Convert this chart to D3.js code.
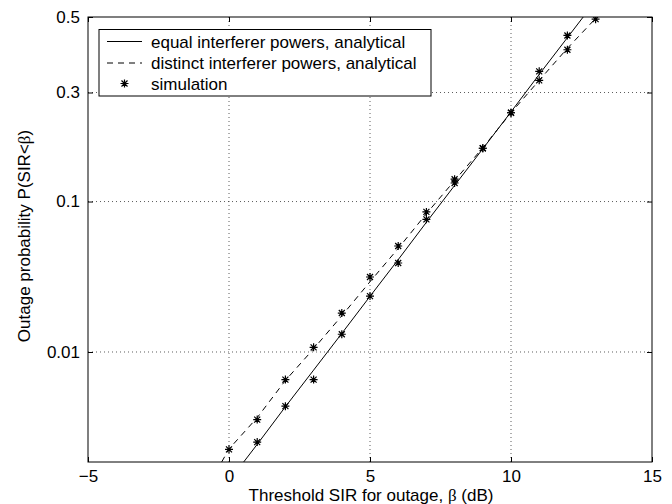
<!DOCTYPE html>
<html>
<head>
<meta charset="utf-8">
<script src="https://cdn.jsdelivr.net/npm/d3@7"></script>
<style>
  body { margin: 0; background: #fff; }
  text { font-family: "Liberation Sans", Arial, Helvetica, sans-serif; }
</style>
</head>
<body>
<svg width="672" height="504"></svg>
<script>
// values
const simX = [0, 1, 2, 3, 4, 5, 6, 7, 8, 9, 10, 11, 12, 13];
const simEqual = [null, 0.00158, 0.00344, 0.0059, 0.0138, 0.0263, 0.0438, 0.080, 0.1245, 0.181, 0.253, 0.353, 0.449, null];
const simDistinct = [0.00134, 0.00259, 0.0059, 0.0109, 0.0199, 0.0355, 0.0559, 0.0879, 0.130, 0.181, 0.253, 0.330, 0.410, 0.494];

const eqX = [0.52, 1, 2, 3, 4, 5, 6, 7, 8, 9, 10, 11, 12, 12.56];
const eqP = [0.001, 0.0015, 0.0034, 0.0071, 0.014, 0.0262, 0.046, 0.077, 0.121, 0.18, 0.255, 0.345, 0.443, 0.5];
const diX = [-0.26, 0, 1, 2, 3, 4, 5, 6, 7, 8, 9, 10, 11, 12, 13, 13.04];
const diP = [0.001, 0.00135, 0.0027, 0.0058, 0.0106, 0.019, 0.033, 0.054, 0.086, 0.128, 0.182, 0.253, 0.33, 0.414, 0.496, 0.5];

const xTicks = [-5, 0, 5, 10, 15];
const yTicks = [0.01, 0.1, 0.3, 0.5];
const legendLabels = ["equal interferer powers, analytical", "distinct interferer powers, analytical", "simulation"];

// inverse normal cdf (Acklam) -> normal probability axis
function probit(p) {
  const a = [-39.69683028665376, 220.9460984245205, -275.9285104469687, 138.3577518672690, -30.66479806614716, 2.506628277459239];
  const b = [-54.47609879822406, 161.5858368580409, -155.6989798598866, 66.80131188771972, -13.28068155288572];
  const c = [-0.007784894002430293, -0.3223964580411365, -2.400758277161838, -2.549732539343734, 4.374664141464968, 2.938163982698783];
  const d = [0.007784695709041462, 0.3224671290700398, 2.445134137142996, 3.754408661907416];
  const pl = 0.02425;
  let q, r;
  if (p < pl) {
    q = Math.sqrt(-2 * Math.log(p));
    return (((((c[0]*q+c[1])*q+c[2])*q+c[3])*q+c[4])*q+c[5]) / ((((d[0]*q+d[1])*q+d[2])*q+d[3])*q+1);
  } else if (p <= 1 - pl) {
    q = p - 0.5; r = q * q;
    return (((((a[0]*r+a[1])*r+a[2])*r+a[3])*r+a[4])*r+a[5])*q / (((((b[0]*r+b[1])*r+b[2])*r+b[3])*r+b[4])*r+1);
  }
  q = Math.sqrt(-2 * Math.log(1 - p));
  return -(((((c[0]*q+c[1])*q+c[2])*q+c[3])*q+c[4])*q+c[5]) / ((((d[0]*q+d[1])*q+d[2])*q+d[3])*q+1);
}

const margin = {top: 17, right: 20, bottom: 42, left: 88};
const W = 672, H = 504;
const pw = W - margin.left - margin.right;
const ph = H - margin.top - margin.bottom;
const fs = "17px";

const svg = d3.select("svg");
const g = svg.append("g").attr("transform", `translate(${margin.left},${margin.top})`);

const x = d3.scaleLinear().domain([-5, 15]).range([0, pw]);
const z = d3.scaleLinear().domain([probit(0.001), probit(0.5)]).range([ph, 0]);
const y = p => z(probit(p));

g.append("clipPath").attr("id", "clip")
  .append("rect").attr("width", pw).attr("height", ph);

// grid
const grid = g.append("g").attr("stroke", "#333").attr("stroke-width", 0.8).attr("stroke-dasharray", "1,3");
grid.selectAll(".gx").data(xTicks.slice(1, -1)).join("line")
  .attr("x1", d => x(d)).attr("x2", d => x(d)).attr("y1", 0).attr("y2", ph);
grid.selectAll(".gy").data(yTicks.filter(d => d < 0.5)).join("line")
  .attr("x1", 0).attr("x2", pw).attr("y1", d => y(d)).attr("y2", d => y(d));

// axes, MATLAB style inward ticks
const fmt = d3.format("");
g.append("g").attr("transform", `translate(0,${ph})`)
  .call(d3.axisBottom(x).tickValues(xTicks).tickSizeInner(-5).tickSizeOuter(0).tickPadding(8)
    .tickFormat(d => d < 0 ? "\u2212" + Math.abs(d) : d))
  .call(a => a.select(".domain").remove());
g.append("g")
  .call(d3.axisTop(x).tickValues(xTicks).tickSizeInner(-5).tickSizeOuter(0).tickFormat(""))
  .call(a => a.select(".domain").remove());
g.append("g")
  .call(d3.axisLeft(z).tickValues(yTicks.map(probit)).tickSizeInner(-5).tickSizeOuter(0).tickPadding(8)
    .tickFormat((d, i) => fmt(yTicks[i])))
  .call(a => a.select(".domain").remove());
g.append("g").attr("transform", `translate(${pw},0)`)
  .call(d3.axisRight(z).tickValues(yTicks.map(probit)).tickSizeInner(-5).tickSizeOuter(0).tickFormat(""))
  .call(a => a.select(".domain").remove());

g.selectAll(".tick text").attr("font-size", fs).attr("fill", "#000")
  .attr("font-family", '"Liberation Sans", Arial, sans-serif');
g.selectAll(".tick line").attr("stroke", "#000");

g.append("rect").attr("width", pw).attr("height", ph)
  .attr("fill", "none").attr("stroke", "#000").attr("stroke-width", 1);

// analytical curves
const line = d3.line().x(d => x(d[0])).y(d => y(d[1]));
const plot = g.append("g").attr("clip-path", "url(#clip)");
plot.append("path").datum(d3.zip(eqX, eqP)).attr("d", line)
  .attr("fill", "none").attr("stroke", "#000").attr("stroke-width", 1);
plot.append("path").datum(d3.zip(diX, diP)).attr("d", line)
  .attr("fill", "none").attr("stroke", "#000").attr("stroke-width", 1).attr("stroke-dasharray", "6,5");

// simulation stars
const star = "M-4,0H4M0,-4V4M-3,-3L3,3M-3,3L3,-3";
const pts = d3.zip(simX, simEqual).concat(d3.zip(simX, simDistinct)).filter(d => d[1] != null);
plot.selectAll(".sim").data(pts).join("path")
  .attr("transform", d => `translate(${x(d[0])},${y(d[1])})`)
  .attr("d", star).attr("stroke", "#000").attr("stroke-width", 1.2).attr("fill", "none");

// legend
const lg = svg.append("g").attr("transform", "translate(99,29.5)");
lg.append("rect").attr("width", 332).attr("height", 66.5)
  .attr("fill", "#fff").attr("stroke", "#000").attr("stroke-width", 1);
const rows = [12, 33.5, 54];
lg.selectAll("text").data(legendLabels).join("text")
  .attr("x", 52).attr("y", (d, i) => rows[i] + 6)
  .attr("font-size", fs).text(d => d);
lg.append("line").attr("x1", 8).attr("x2", 43).attr("y1", rows[0]).attr("y2", rows[0]).attr("stroke", "#000");
lg.append("line").attr("x1", 8).attr("x2", 43).attr("y1", rows[1]).attr("y2", rows[1]).attr("stroke", "#000")
  .attr("stroke-dasharray", "6,5");
lg.append("path").attr("transform", `translate(25.5,${rows[2]})`).attr("d", star)
  .attr("stroke", "#000").attr("stroke-width", 1.2).attr("fill", "none");

// axis labels
const xl = svg.append("text").attr("x", margin.left + pw / 2 + 1).attr("y", 501)
  .attr("text-anchor", "middle").attr("font-size", fs);
xl.append("tspan").text("Threshold SIR for outage, ");
xl.append("tspan").attr("font-family", '"Liberation Serif", "DejaVu Serif", serif').text("\u03b2");
xl.append("tspan").text(" (dB)");

const yl = svg.append("text").attr("transform", "translate(30,236) rotate(-90)")
  .attr("text-anchor", "middle").attr("font-size", fs);
yl.append("tspan").text("Outage probability P(SIR<");
yl.append("tspan").attr("font-family", '"Liberation Serif", "DejaVu Serif", serif').text("\u03b2");
yl.append("tspan").text(")");
</script>
</body>
</html>
